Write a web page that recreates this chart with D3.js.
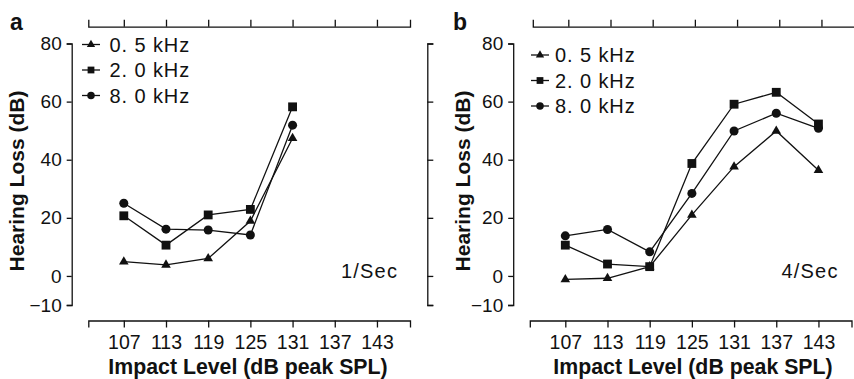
<!DOCTYPE html>
<html>
<head>
<meta charset="utf-8">
<script src="https://cdn.jsdelivr.net/npm/d3@7"></script>
<style>
  html, body { margin: 0; padding: 0; background: #fff; }
  svg { display: block; font-family: "Liberation Sans", Arial, Helvetica, sans-serif; }
</style>
</head>
<body>
<svg id="chart" width="854" height="379"></svg>
<script>
// ---- data ----
const impactLevels = [107, 113, 119, 125, 131, 137, 143];
const yTicks = [80, 60, 40, 20, 0, -10];
const seriesNames = ["0. 5 kHz", "2. 0 kHz", "8. 0 kHz"];
const panelLabels = ["a", "b"];
const rateLabels = ["1/Sec", "4/Sec"];

// Panel a (1/Sec): levels 107–131
const a_levels = [107, 113, 119, 125, 131];
const a_05k = [4.9, 3.8, 6.0, 18.9, 47.4];
const a_2k  = [20.7, 10.6, 21.0, 22.9, 58.2];
const a_8k  = [25.0, 16.1, 15.8, 14.1, 51.9];

// Panel b (4/Sec): levels 107–143
const b_levels = [107, 113, 119, 125, 131, 137, 143];
const b_05k = [-1.2, -0.8, 3.2, 21.0, 37.6, 49.9, 36.4];
const b_2k  = [10.6, 4.1, 3.2, 38.7, 59.1, 63.2, 52.3];
const b_8k  = [13.8, 16.0, 8.3, 28.4, 49.9, 56.0, 50.8];

const panels = [
  { label: panelLabels[0], rate: rateLabels[0], levels: a_levels, series: [a_05k, a_2k, a_8k],
    ox: 0, topShift: 0, legX: 91, legTextX: 109.5, legY: 44.5, labelX: 10, yTitleX: 24, xTitleX: 248, rateX: 341 },
  { label: panelLabels[1], rate: rateLabels[1], levels: b_levels, series: [b_05k, b_2k, b_8k],
    ox: 441.5, topShift: 3, legX: 540, legTextX: 555, legY: 55, labelX: 453, yTitleX: 470, xTitleX: 693, rateX: 781.5 }
];

const symbols = [d3.symbolTriangle, d3.symbolSquare, d3.symbolCircle];
const symSizes = [40, 78, 64];
const legSizes = [30, 46, 44];
const ink = "#111";

const svg = d3.select("#chart");

panels.forEach(p => {
  const g = svg.append("g");
  const x = d3.scaleLinear().domain([101.95, 147.7]).range([p.ox + 88.3, p.ox + 410]);
  const y = d3.scaleLinear().domain([-10, 80]).range([305, 43.5]);

  // left y axis
  const yAxis = d3.axisLeft(y).tickValues(yTicks).tickSizeInner(5).tickSizeOuter(5).tickPadding(5);
  const ya = g.append("g").attr("transform", `translate(${p.ox + 71.7},0)`).call(yAxis)
    .attr("font-family", null).attr("font-size", null);
  ya.selectAll("text").attr("font-size", 19).attr("fill", ink);

  // right y axis (no labels)
  const yAxisR = d3.axisRight(y).tickValues(yTicks).tickSizeInner(6).tickSizeOuter(6).tickFormat("");
  g.append("g").attr("transform", `translate(${p.ox + 427.3},0)`).call(yAxisR);

  // bottom x axis
  const xAxis = d3.axisBottom(x).tickValues(impactLevels).tickSizeInner(7).tickSizeOuter(7).tickPadding(8).tickFormat(d3.format("d"));
  const xa = g.append("g").attr("transform", `translate(0,320.5)`).call(xAxis)
    .attr("font-family", null).attr("font-size", null);
  xa.selectAll("text").attr("font-size", 19.5).attr("fill", ink);

  // top x axis (no labels)
  const xAxisT = d3.axisTop(x).tickValues(impactLevels).tickSizeInner(7).tickSizeOuter(7).tickFormat("");
  g.append("g").attr("transform", `translate(${p.topShift},26.7)`).call(xAxisT);

  g.selectAll(".domain, .tick line").attr("stroke", ink).attr("stroke-width", 1.3);

  // series lines + markers
  p.series.forEach((vals, si) => {
    const pts = p.levels.map((lv, i) => [lv, vals[i]]);
    g.append("path")
      .attr("d", d3.line().x(d => x(d[0])).y(d => y(d[1]))(pts))
      .attr("fill", "none").attr("stroke", ink).attr("stroke-width", 1.3);
    g.selectAll(null).data(pts).enter().append("path")
      .attr("transform", d => `translate(${x(d[0])},${y(d[1])})`)
      .attr("d", d3.symbol().type(symbols[si]).size(symSizes[si])())
      .attr("fill", ink);
  });

  // legend
  seriesNames.forEach((name, si) => {
    const ly = p.legY + si * 25.5;
    g.append("line").attr("x1", p.legX - 9).attr("x2", p.legX + 9).attr("y1", ly).attr("y2", ly)
      .attr("stroke", ink).attr("stroke-width", 1.3);
    g.append("path").attr("transform", `translate(${p.legX},${ly})`)
      .attr("d", d3.symbol().type(symbols[si]).size(legSizes[si])()).attr("fill", ink);
    g.append("text").attr("x", p.legTextX).attr("y", ly + 7)
      .attr("font-size", 20).attr("letter-spacing", 0.9).attr("fill", ink).text(name);
  });

  // panel letter
  g.append("text").attr("x", p.labelX).attr("y", 30).attr("font-size", 23).attr("font-weight", "bold")
    .attr("fill", ink).text(p.label);

  // rate label
  g.append("text").attr("x", p.rateX).attr("y", 278).attr("font-size", 20).attr("letter-spacing", 1.2)
    .attr("fill", ink).text(p.rate);

  // axis titles
  g.append("text").attr("x", p.xTitleX).attr("y", 374).attr("text-anchor", "middle")
    .attr("font-size", 21.3).attr("font-weight", "bold").attr("fill", ink).text("Impact Level (dB peak SPL)");
  g.append("text").attr("transform", `translate(${p.yTitleX},181) rotate(-90)`).attr("text-anchor", "middle")
    .attr("font-size", 21).attr("font-weight", "bold").attr("fill", ink).text("Hearing Loss (dB)");
});
</script>
</body>
</html>
